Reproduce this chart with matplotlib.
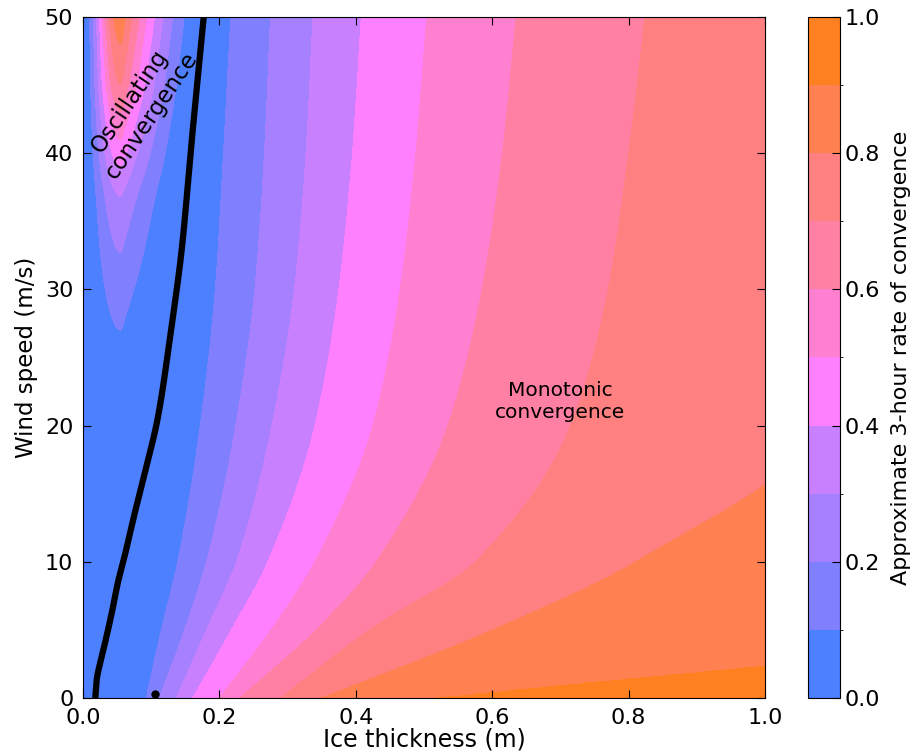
import numpy as np
import matplotlib.pyplot as plt
from matplotlib.colors import ListedColormap, BoundaryNorm

# rate levels and band colours
rate_levels = [0.0, 0.1, 0.2, 0.3, 0.4, 0.5, 0.6, 0.7, 0.8, 0.9, 1.0]
band_colors = ['#4d80ff', '#8080ff', '#a680ff', '#c880ff', '#ff80ff',
               '#ff80d0', '#ff80a2', '#ff8080', '#ff8050', '#ff8020']

# black line: rate = 0, where oscillating turns into monotonic convergence
line_wind = [0.0, 1.3, 2.55, 3.77, 6.2, 8.66, 10.0, 13.6, 16.0, 20.65, 26.8, 32.9, 40.7, 50.0]
line_thick = [0.018, 0.020, 0.025, 0.031, 0.042, 0.052, 0.059, 0.076, 0.088, 0.110, 0.1285, 0.1447, 0.159, 0.177]

# monotonic side: ice thickness where each contour (0.1 ... 0.9) sits, per wind speed
mono_wind = [0, 5, 10, 20, 30, 40, 50]
mono_thick = {
    0.1: [0.093, 0.115, 0.139, 0.172, 0.194, 0.206, 0.2165],
    0.2: [0.112, 0.149, 0.181, 0.224, 0.252, 0.266, 0.275],
    0.3: [0.137, 0.181, 0.225, 0.277, 0.310, 0.327, 0.337],
    0.4: [0.161, 0.2175, 0.271, 0.340, 0.375, 0.395, 0.408],
    0.5: [0.200, 0.276, 0.340, 0.425, 0.465, 0.488, 0.504],
    0.6: [0.230, 0.342, 0.430, 0.535, 0.585, 0.615, 0.635],
    0.7: [0.290, 0.420, 0.575, 0.715, 0.770, 0.800, 0.824],
    0.8: [0.350, 0.600, 0.810, 1.080, 1.110, 1.125, 1.140],
    0.9: [0.520, 1.400, 1.600, 2.000, 2.100, 2.200, 2.300],
}

# oscillating side: peak rate of the nested U-shapes vs wind speed
peak_wind = [0, 22, 27, 32.7, 36.8, 39, 41, 43, 45, 48, 50]
peak_rate = [0.0, 0.05, 0.1, 0.2, 0.3, 0.4, 0.5, 0.6, 0.7, 0.8, 0.87]
peak_thick = 0.056

# isolated zero point at the bottom
dot_thick = [0.105]
dot_wind = [0.3]


def pchip(x, y, xn):
    # monotone cubic through the read points, keeps contours smooth
    x = np.asarray(x, float)
    y = np.asarray(y, float)
    hk = np.diff(x)
    dk = np.diff(y) / hk
    m = np.zeros_like(y)
    m[0], m[-1] = dk[0], dk[-1]
    for k in range(1, len(x) - 1):
        if dk[k - 1] * dk[k] > 0:
            w1 = 2 * hk[k] + hk[k - 1]
            w2 = hk[k] + 2 * hk[k - 1]
            m[k] = (w1 + w2) / (w1 / dk[k - 1] + w2 / dk[k])
    i = np.clip(np.searchsorted(x, xn) - 1, 0, len(x) - 2)
    t = (xn - x[i]) / hk[i]
    return ((2 * t**3 - 3 * t**2 + 1) * y[i] + (t**3 - 2 * t**2 + t) * hk[i] * m[i]
            + (-2 * t**3 + 3 * t**2) * y[i + 1] + (t**3 - t**2) * hk[i] * m[i + 1])


h = np.linspace(0, 1, 801)
U = np.linspace(0, 50, 501)
h0 = pchip(line_wind, line_thick, U)
pos = [pchip(mono_wind, mono_thick[k], U) for k in rate_levels[1:-1]]
peak = pchip(peak_wind, peak_rate, U)

rate = np.zeros((len(U), len(h)))
for i in range(len(U)):
    xp = [h0[i]] + [p[i] for p in pos] + [3.0]
    mono = np.interp(h, xp, rate_levels)
    left = np.sin(np.pi / 2 * np.clip(h / peak_thick, 0, 1)) ** 1.66
    right = np.clip((h0[i] - h) / max(h0[i] - peak_thick, 1e-3), 0, 1) ** 1.5
    osc = peak[i] * np.where(h < peak_thick, left, right)
    rate[i] = np.where(h < h0[i], osc, mono)

plt.rcParams['font.family'] = 'DejaVu Sans'
fig = plt.figure(figsize=(9.14, 7.55), dpi=100)
ax = fig.add_axes([0.0908, 0.0755, 0.7462, 0.902])
cax = fig.add_axes([0.884, 0.0755, 0.035, 0.902])

cmap = ListedColormap(band_colors)
norm = BoundaryNorm(rate_levels, cmap.N)
cs = ax.contourf(h, U, rate, levels=rate_levels, cmap=cmap, norm=norm)
ax.plot(h0, U, color='black', lw=4.5, solid_capstyle='butt')
ax.plot(dot_thick, dot_wind, 'o', color='black', ms=5)

ax.set_xlim(0, 1)
ax.set_ylim(0, 50)
ax.set_xticks(np.arange(0, 1.01, 0.2))
ax.set_xticklabels(['%.1f' % v for v in np.arange(0, 1.01, 0.2)])
ax.set_yticks(range(0, 51, 10))
ax.tick_params(direction='in', top=True, right=True, labelsize=16, length=6, pad=7)
ax.set_xlabel('Ice thickness (m)', fontsize=17, labelpad=0)
ax.set_ylabel('Wind speed (m/s)', fontsize=16.5, labelpad=5)

ax.text(0.085, 43.3, 'Oscillating\nconvergence', fontsize=16.5, rotation=56,
        ha='center', va='center', multialignment='center')
ax.text(0.70, 21.8, 'Monotonic\nconvergence', fontsize=14.5,
        ha='center', va='center', multialignment='center')

cb = fig.colorbar(cs, cax=cax, ticks=np.arange(0, 1.01, 0.2))
cb.ax.set_yticklabels(['%.1f' % v for v in np.arange(0, 1.01, 0.2)])
cb.ax.tick_params(labelsize=16, direction='in', length=6)
cb.set_label('Approximate 3-hour rate of convergence', fontsize=16, labelpad=8)

fig.savefig('out.png', dpi=100)
